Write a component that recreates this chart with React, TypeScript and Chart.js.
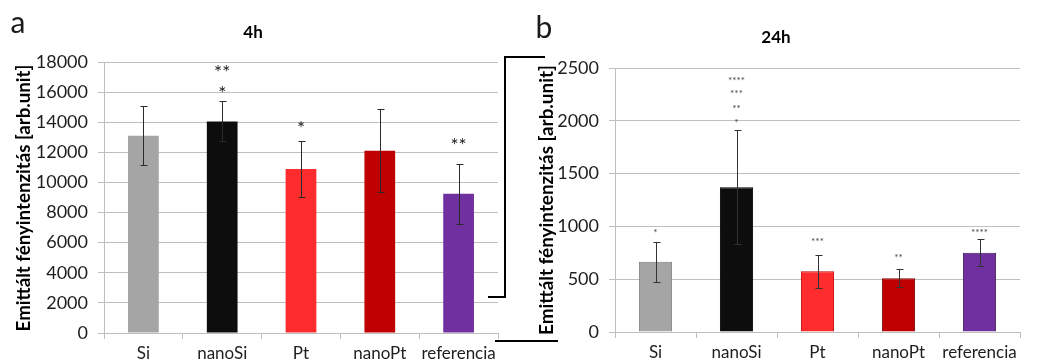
import React, { useEffect, useRef } from "react";
import { Chart, registerables } from "chart.js";
Chart.register(...registerables);

// ---------- data ----------
const categories = ["Si", "nanoSi", "Pt", "nanoPt", "referencia"];

const values4h = [13100, 14050, 10900, 12100, 9250];
const errors4h = [1950, 1330, 1870, 2750, 2000];
const yMax4h = 18000;
const yStep4h = 2000;
const starLabels4h = [[], ["*", "**"], ["*"], [], ["**"]];
const starLevels4h = [[], [16140, 17535], [13815], [], [12686]];

const values24h = [665, 1370, 575, 510, 750];
const errors24h = [190, 540, 158, 88, 127];
const yMax24h = 2500;
const yStep24h = 500;
const starLabels24h = [["*"], ["*", "**", "***", "****"], ["***"], ["**"], ["****"]];
const starLevels24h = [[959], [2000, 2133, 2275, 2399], [874], [723], [959]];

const fillColors = ["#a5a5a5", "#0d0d0d", "#fe2c2c", "#c00000", "#7030a0"];
const borderColors24h = ["#7f7f7f", "#000000", "#c00000", "#7a0000", "#3f1a5c"];

const yTitle = "Emittált fényintenzitás [arb.unit]";
const FONT = "Lato, 'Open Sans', sans-serif";
const GRID = "#bfbfbf";
const TEXT = "#1e1e1e";

type PanelCfg = {
  width: number;
  height: number;
  values: number[];
  errors: number[];
  yMax: number;
  yStep: number;
  starLabels: string[][];
  starLevels: number[][];
  borders: string[] | null;
  barPct: number;
  pad: { top: number; right: number };
  yWidth: number;
  xHeight: number;
  letter: string;
  letterPos: [number, number];
  title: string;
  titlePos: [number, number];
  yTitlePos: [number, number];
  yTitleLen: number;
  starFont: number;
  starColor: string;
  errColor: string;
};

function makePlugin(cfg: PanelCfg) {
  return {
    id: "decor",
    afterDatasetsDraw(chart: any) {
      const ctx = chart.ctx;
      const meta = chart.getDatasetMeta(0);
      const ys = chart.scales.y;
      ctx.save();
      // error bars
      ctx.strokeStyle = cfg.errColor;
      ctx.lineWidth = 1;
      meta.data.forEach((el: any, i: number) => {
        const x = Math.round(el.x) + 0.5;
        const t = Math.round(ys.getPixelForValue(cfg.values[i] + cfg.errors[i])) + 0.5;
        const b = Math.round(ys.getPixelForValue(cfg.values[i] - cfg.errors[i])) + 0.5;
        ctx.beginPath();
        ctx.moveTo(x, t);
        ctx.lineTo(x, b);
        ctx.moveTo(x - 3, t);
        ctx.lineTo(x + 4, t);
        ctx.moveTo(x - 3, b);
        ctx.lineTo(x + 4, b);
        ctx.stroke();
      });
      // significance stars
      ctx.fillStyle = cfg.starColor;
      ctx.font = `${cfg.starFont}px ${FONT}`;
      ctx.textAlign = "center";
      ctx.textBaseline = "middle";
      meta.data.forEach((el: any, i: number) => {
        cfg.starLabels[i].forEach((s, k) => {
          const y = ys.getPixelForValue(cfg.starLevels[i][k]);
          ctx.fillText(s, el.x, y + cfg.starFont * 0.22);
        });
      });
      ctx.restore();
    },
    afterDraw(chart: any) {
      const ctx = chart.ctx;
      ctx.save();
      ctx.fillStyle = "#1a1a1a";
      ctx.textAlign = "center";
      ctx.textBaseline = "alphabetic";
      ctx.font = `30px ${FONT}`;
      ctx.fillText(cfg.letter, cfg.letterPos[0], cfg.letterPos[1]);
      ctx.fillStyle = "#000";
      ctx.textBaseline = "middle";
      ctx.font = `bold 17px ${FONT}`;
      ctx.fillText(cfg.title, cfg.titlePos[0], cfg.titlePos[1]);
      // y title, fitted to the measured length
      ctx.font = `bold 16px ${FONT}`;
      const w = ctx.measureText(yTitle).width;
      const size = (16 * cfg.yTitleLen) / w;
      ctx.font = `bold ${size.toFixed(2)}px ${FONT}`;
      ctx.translate(cfg.yTitlePos[0], cfg.yTitlePos[1]);
      ctx.rotate(-Math.PI / 2);
      ctx.fillText(yTitle, 0, 0);
      ctx.restore();
    },
  };
}

function Panel({ cfg, style }: { cfg: PanelCfg; style: React.CSSProperties }) {
  const ref = useRef<HTMLCanvasElement | null>(null);
  useEffect(() => {
    if (!ref.current) return;
    const chart = new Chart(ref.current, {
      type: "bar",
      data: {
        labels: categories,
        datasets: [
          {
            data: cfg.values,
            backgroundColor: fillColors,
            borderColor: cfg.borders ?? fillColors,
            borderWidth: cfg.borders ? 1 : 0,
            barPercentage: cfg.barPct,
            categoryPercentage: 1,
          },
        ],
      },
      options: {
        responsive: false,
        animation: false,
        devicePixelRatio: 1,
        layout: { padding: { top: cfg.pad.top, right: cfg.pad.right, bottom: 0, left: 0 } },
        plugins: {
          legend: { display: false },
          tooltip: { enabled: false },
          title: { display: false },
        },
        scales: {
          x: {
            offset: true,
            grid: {
              display: true,
              drawOnChartArea: false,
              drawTicks: true,
              tickLength: 6,
              color: GRID,
              offset: true,
            },
            border: { color: GRID },
            ticks: {
              font: { family: FONT, size: 17 },
              color: TEXT,
              padding: 4,
              maxRotation: 0,
              autoSkip: false,
            },
            afterFit: (s: any) => {
              s.height = cfg.xHeight;
            },
          },
          y: {
            min: 0,
            max: cfg.yMax,
            ticks: {
              stepSize: cfg.yStep,
              font: { family: FONT, size: 18 },
              color: TEXT,
              padding: 10,
              callback: (v: any) => String(v),
            },
            grid: { color: GRID, tickLength: 6 },
            border: { color: GRID },
            afterFit: (s: any) => {
              s.width = cfg.yWidth;
            },
          },
        },
      },
      plugins: [makePlugin(cfg)],
    } as any);
    return () => chart.destroy();
  }, []);
  return (
    <canvas
      ref={ref}
      width={cfg.width}
      height={cfg.height}
      style={{ position: "absolute", display: "block", width: cfg.width, height: cfg.height, ...style }}
    />
  );
}

const left: PanelCfg = {
  width: 510,
  height: 363,
  values: values4h,
  errors: errors4h,
  yMax: yMax4h,
  yStep: yStep4h,
  starLabels: starLabels4h,
  starLevels: starLevels4h,
  borders: null,
  barPct: 0.39,
  pad: { top: 62, right: 12 },
  yWidth: 104,
  xHeight: 30,
  letter: "a",
  letterPos: [18, 33],
  title: "4h",
  titlePos: [253, 33],
  yTitlePos: [24, 198],
  yTitleLen: 267,
  starFont: 19,
  starColor: "#222",
  errColor: "#2a2a2a",
};

const right: PanelCfg = {
  width: 541,
  height: 363,
  values: values24h,
  errors: errors24h,
  yMax: yMax24h,
  yStep: yStep24h,
  starLabels: starLabels24h,
  starLevels: starLevels24h,
  borders: borderColors24h,
  barPct: 0.41,
  pad: { top: 68, right: 31 },
  yWidth: 105,
  xHeight: 31,
  letter: "b",
  letterPos: [34, 38],
  title: "24h",
  titlePos: [266, 38],
  yTitlePos: [37, 200],
  yTitleLen: 270,
  starFont: 10,
  starColor: "#444",
  errColor: "#333",
};

const line = (l: number, t: number, w: number, h: number): React.CSSProperties => ({
  position: "absolute",
  left: l,
  top: t,
  width: w,
  height: h,
  background: "#000",
});

export default function App() {
  return (
    <div
      style={{
        position: "absolute",
        left: 0,
        top: 0,
        width: 1051,
        height: 363,
        background: "#fff",
        overflow: "hidden",
      }}
    >
      <Panel cfg={left} style={{ left: 0, top: 0 }} />
      <Panel cfg={right} style={{ left: 510, top: 0 }} />
      <div style={line(504, 56, 2, 242)} />
      <div style={line(504, 56, 41, 2)} />
      <div style={line(488, 296, 18, 2)} />
      <div style={line(495, 340, 63, 2)} />
    </div>
  );
}
